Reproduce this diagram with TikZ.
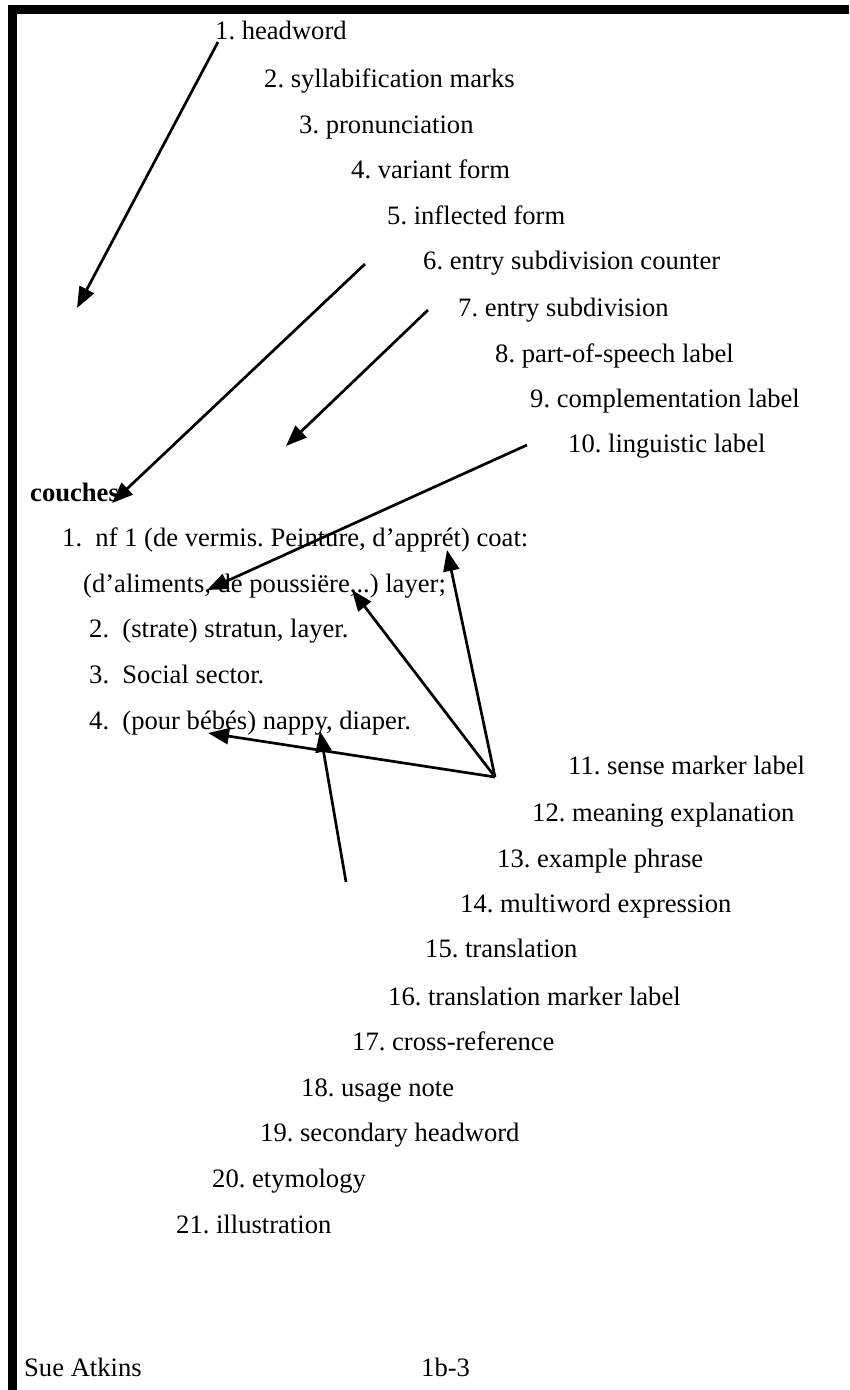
\documentclass[tikz,border=0pt]{standalone}
\usepackage{fontspec}
\setmainfont{Liberation Serif}
\usetikzlibrary{arrows.meta}
\frenchspacing
\begin{document}
\begin{tikzpicture}[x=1pt,y=-1pt,
  lbl/.style={anchor=base west, inner sep=0pt, font=\fontsize{26.6}{30}\selectfont},
  arr/.style={line width=2.7pt, -{Triangle[length=21pt,width=16pt]}}]
\useasboundingbox (0,0) rectangle (849,1390);
\fill[black] (8,5) rectangle (849,14);
\fill[black] (8,5) rectangle (17,1390);
% right-hand staircase labels
\node[lbl] (l1)  at (215,39)  {1. headword};
\node[lbl] (l2)  at (264,87)  {2. syllabification marks};
\node[lbl] (l3)  at (299,133) {3. pronunciation};
\node[lbl] (l4)  at (351,178) {4. variant form};
\node[lbl] (l5)  at (387,224) {5. inflected form};
\node[lbl] (l6)  at (423,269) {6. entry subdivision counter};
\node[lbl] (l7)  at (458,316) {7. entry subdivision};
\node[lbl] (l8)  at (495,362) {8. part-of-speech label};
\node[lbl] (l9)  at (530,407) {9. complementation label};
\node[lbl] (l10) at (568,452) {10. linguistic label};
% dictionary entry
\node[lbl,font=\fontsize{26.6}{30}\selectfont\bfseries] (hw) at (30,501) {couches};
\node[lbl] (e1) at (62,546) {1.\ \ nf 1 (de vermis. Peinture, d’apprét) coat:};
\node[lbl] (e1b) at (83,592) {(d’aliments, de poussiëre,..) layer;};
\node[lbl] (e2) at (89,637) {2.\ \ (strate) stratun, layer.};
\node[lbl] (e3) at (89,683) {3.\ \ Social sector.};
\node[lbl] (e4) at (89,729) {4.\ \ (pour bébés) nappy, diaper.};
% lower staircase labels
\node[lbl] (l11) at (568,774)  {11. sense marker label};
\node[lbl] (l12) at (532,821)  {12. meaning explanation};
\node[lbl] (l13) at (497,867)  {13. example phrase};
\node[lbl] (l14) at (460,912)  {14. multiword expression};
\node[lbl] (l15) at (425,957)  {15. translation};
\node[lbl] (l16) at (388,1005) {16. translation marker label};
\node[lbl] (l17) at (352,1050) {17. cross-reference};
\node[lbl] (l18) at (301,1096) {18. usage note};
\node[lbl] (l19) at (260,1141) {19. secondary headword};
\node[lbl] (l20) at (212,1187) {20. etymology};
\node[lbl] (l21) at (176,1233) {21. illustration};
% footer
\node[lbl] (f1) at (24,1376)  {Sue Atkins};
\node[lbl] (f2) at (421,1376) {1b-3};
% arrow end points
\coordinate (a1s) at (218,42);  \coordinate (a1e) at (77,308);
\coordinate (a2s) at (365,264); \coordinate (a2e) at (112,503);
\coordinate (a3s) at (428,310); \coordinate (a3e) at (286,446);
\coordinate (a4s) at (527,445); \coordinate (a4e) at (207,590);
\coordinate (fan) at (495,777);
\coordinate (coat) at (447,550);
\coordinate (pous) at (352,590);
\coordinate (bebe) at (208,733);
\coordinate (a8s) at (346,882); \coordinate (nappy) at (320,731);
\draw[arr] (a1s) -- (a1e);
\draw[arr] (a2s) -- (a2e);
\draw[arr] (a3s) -- (a3e);
\draw[arr] (a4s) -- (a4e);
\draw[arr] (fan) -- (coat);
\draw[arr] (fan) -- (pous);
\draw[arr] (fan) -- (bebe);
\draw[arr] (a8s) -- (nappy);
\end{tikzpicture}
\end{document}
